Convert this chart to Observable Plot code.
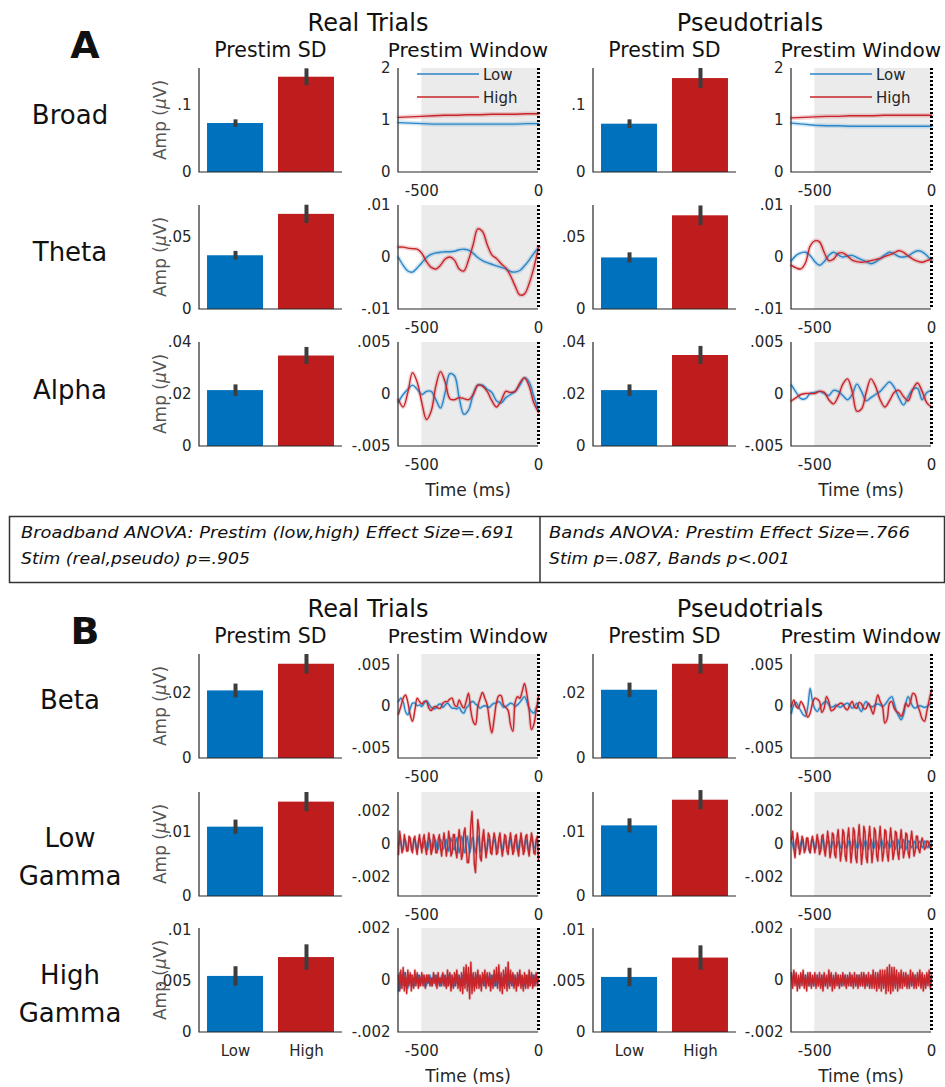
<!DOCTYPE html>
<html><head><meta charset="utf-8">
<script src="https://cdn.jsdelivr.net/npm/d3@7"></script>
<script src="https://cdn.jsdelivr.net/npm/@observablehq/plot@0.6"></script>
<style>
body{margin:0;background:#fff;}
#fig{position:relative;width:945px;height:1087px;overflow:hidden;background:#fff;font-family:"DejaVu Sans",sans-serif;}
</style></head><body><div id="fig"></div>
<script>
// ---------------- DATA ----------------
const bandNames = ["Broad","Theta","Alpha","Beta","Low Gamma","High Gamma"];
const conditions = ["Low","High"];
const trialTypes = ["Real Trials","Pseudotrials"];

// Prestim SD bar means and error half-widths (µV)
const realLowSD   = [0.073, 0.0370, 0.0215, 0.0208, 0.0108, 0.0055];
const realHighSD  = [0.142, 0.0655, 0.0348, 0.0290, 0.0147, 0.00735];
const realLowSE   = [0.0055, 0.0030, 0.0022, 0.0021, 0.0011, 0.00095];
const realHighSE  = [0.0125, 0.0063, 0.0033, 0.0030, 0.0015, 0.00125];
const pseudoLowSD  = [0.072, 0.0355, 0.0215, 0.0210, 0.0110, 0.0054];
const pseudoHighSD = [0.140, 0.0645, 0.0350, 0.0290, 0.0150, 0.0073];
const pseudoLowSE  = [0.0065, 0.0035, 0.0022, 0.0022, 0.0011, 0.0009];
const pseudoHighSE = [0.0150, 0.0068, 0.0035, 0.0030, 0.0015, 0.0012];

const barYMax   = [0.155, 0.0716, 0.04, 0.032, 0.0162, 0.0102];
const barYTicks = [[0,0.1],[0,0.05],[0,0.02,0.04],[0,0.02],[0,0.01],[0,0.005,0.01]];

const lineYMin   = [0, -0.01, -0.005, -0.0063, -0.00315, -0.002];
const lineYMax   = [2,  0.01,  0.005,  0.0063,  0.00315,  0.002];
const lineYTicks = [[0,1,2],[-0.01,0,0.01],[-0.005,0,0.005],[-0.005,0,0.005],[-0.002,0,0.002],[-0.002,0,0.002]];
const timeTicks = [-500, 0];
const timeDomain = [-600, 0];
const prestimWindow = [{start: -500, end: 0}];
const stimOnset = [0];

// sample spacing (ms) of each band's series, all starting at -600 ms
const seriesStep = [50, 20, 20, 10, 5, 5];
// series units: Broad in µV, the others in 1e-3 µV
const seriesUnit = [1, 0.001, 0.001, 0.001, 0.001, 0.001];

// Broad
const broadRealLow    = [0.96,0.95,0.94,0.93,0.93,0.93,0.93,0.93,0.93,0.93,0.93,0.94,0.94];
const broadRealHigh   = [1.06,1.07,1.08,1.09,1.10,1.10,1.11,1.11,1.12,1.12,1.12,1.13,1.13];
const broadPseudoLow  = [0.95,0.93,0.91,0.90,0.90,0.89,0.89,0.89,0.89,0.89,0.89,0.89,0.89];
const broadPseudoHigh = [1.05,1.06,1.07,1.08,1.08,1.09,1.09,1.09,1.10,1.10,1.10,1.10,1.10];
// Theta (x1e-3)
const thetaRealLow    = [0,-1.5,-2.6,-2.8,-2.0,-1.0,0.0,0.6,0.9,1.0,1.1,1.1,1.2,1.5,1.6,1.4,0.8,0.0,-0.6,-1.0,-1.3,-1.6,-1.9,-2.2,-2.7,-2.8,-2.5,-1.6,-0.5,0.8,1.9];
const thetaRealHigh   = [2.0,2.0,1.8,1.7,1.6,0.8,-0.8,-1.9,-2.2,-1.5,-0.3,0.1,-0.5,-2.2,-2.6,-0.5,2.5,5.5,5.0,2.5,0.5,-0.2,-1.2,-2.0,-3.5,-5.5,-7.2,-7.0,-5.0,-2.0,2.0];
const thetaPseudoLow  = [-0.6,0.4,0.9,1.0,0.4,-0.8,-1.5,-0.8,0.4,1.0,0.5,0.1,0.3,0.4,0.0,-0.4,-0.8,-1.2,-0.9,-0.2,0.5,1.0,0.7,0.2,0.1,0.3,0.9,1.3,1.1,0.4,-0.6];
const thetaPseudoHigh = [-1.5,-2.0,-2.2,-1.0,2.2,3.2,3.0,1.0,-0.6,-0.3,0.8,0.9,0.3,-0.5,-0.8,-0.9,-0.8,-0.6,-0.4,-0.2,0.2,0.5,0.9,1.3,1.0,0.3,-0.3,-0.7,-0.9,-0.6,-0.3];
// Alpha (x1e-3)
const alphaRealLow    = [-0.7,0.0,0.5,0.9,0.5,0.0,0.3,0.3,-0.5,-1.3,0.2,2.0,1.8,-0.3,-1.9,-1.5,0.0,0.9,0.9,0.5,0.2,-0.6,-0.8,-0.3,0.0,0.3,0.9,1.6,1.2,-0.2,-1.5];
const alphaRealHigh   = [-0.5,-1.2,0.2,2.1,1.2,-0.8,-2.4,-1.6,0.8,2.2,1.2,-0.4,-0.5,-0.3,-0.4,-0.5,0.0,0.9,0.8,0.3,-0.6,-1.2,-0.6,0.3,0.2,0.3,1.1,1.6,0.8,-0.8,-1.7];
const alphaPseudoLow  = [0.9,0.2,-0.4,-0.4,0.1,0.2,0.3,0.1,-0.1,0.4,0.3,-0.1,-0.5,0.0,1.0,0.3,-0.6,-0.3,0.0,0.3,0.8,1.2,0.7,-0.3,-1.0,-0.2,0.5,0.6,-0.5,0.2,0.4];
const alphaPseudoHigh = [-0.6,-0.3,0.0,0.1,0.1,0.1,0.3,0.2,-0.5,-0.9,-0.2,1.0,1.5,0.3,-1.6,-1.4,0.2,1.5,0.8,-0.5,-1.2,-0.6,0.2,0.4,-0.2,-0.6,0.5,1.1,0.3,-0.8,-1.2];
// Beta (x1e-3)
const betaRealLow = [0.6,1.0,0.6,-0.6,-1.0,-0.3,0.4,0.4,0.1,0.2,
  0.0,0.4,0.7,0.3,-0.1,-0.3,-0.2,0.2,0.3,-0.1,
  0.2,0.4,0.1,-0.2,-0.2,-0.3,-0.1,-0.6,-0.8,-0.2,
  0.1,0.5,0.6,0.3,0.1,-0.2,0.0,0.1,0.0,-0.1,
  0.2,0.4,0.4,0.6,0.3,-0.1,0.0,0.2,0.4,0.3,
  0.0,0.2,0.5,0.9,1.2,0.6,-0.2,-0.6,-0.8,-0.2,0.4];
const betaRealHigh = [-0.9,0.0,1.0,1.4,0.5,-1.0,-1.8,-0.5,1.0,0.6,
  0.3,0.6,0.6,-0.2,-0.5,-0.1,0.0,-0.2,-0.2,0.4,
  0.6,0.6,0.9,1.0,0.2,0.0,0.8,0.2,-0.2,0.6,
  1.6,-0.5,-1.8,-2.2,0.0,1.0,1.7,1.0,0.2,-1.8,
  -3.2,-1.5,0.5,1.3,1.3,0.2,-0.1,-0.5,-2.2,-3.0,
  0.5,1.2,1.0,1.8,2.8,1.5,-0.5,-2.8,-2.2,-0.5,1.2];
const betaPseudoLow = [-0.8,0.2,0.5,-0.1,-0.5,-1.0,-1.2,0.0,2.2,0.6,
  -0.3,-0.6,-0.2,0.2,0.5,0.6,0.2,-0.1,0.0,0.2,
  0.0,-0.1,0.1,0.3,0.4,0.1,-0.2,0.0,0.4,-0.2,
  -0.6,0.2,0.6,0.2,0.0,0.0,0.2,0.3,0.2,0.0,
  0.2,0.6,1.0,1.2,0.4,-0.6,-1.2,-1.6,-1.0,0.4,
  1.2,0.6,0.0,-0.2,0.0,0.1,0.0,-0.1,0.0,0.2,0.4];
const betaPseudoHigh = [0.0,0.8,0.0,-0.2,0.6,0.2,-0.6,-1.3,-0.8,0.4,
  1.0,0.9,0.6,-0.7,-0.2,1.2,0.6,-0.5,-0.4,0.0,
  0.2,0.4,0.3,-0.2,-0.4,0.2,0.6,-0.1,-0.2,0.5,
  0.3,-0.3,-0.2,0.4,-0.2,-0.9,0.3,1.4,0.6,0.0,
  -2.0,-1.5,0.4,0.6,-0.2,-0.6,-0.8,-1.2,-0.6,0.4,
  0.0,0.6,1.6,1.4,0.2,-0.6,-1.5,-1.8,-0.6,0.8,2.0];
// Low Gamma (x1e-3)
const lowGammaRealLow = [0.0,0.3,0.1,-0.3,-0.2,0.3,0.2,-0.2,-0.3,0.2,0.3,-0.1,-0.3,0.1,0.3,0.0,-0.3,-0.1,0.3,0.1,-0.2,
  -0.2,0.2,0.2,-0.2,-0.3,0.1,0.3,0.0,-0.3,-0.1,0.3,0.2,-0.2,-0.3,0.1,0.3,0.1,-0.3,-0.2,0.2,
  0.3,-0.1,-0.4,0.0,0.4,0.2,-0.3,-0.3,0.2,0.4,-0.1,-0.5,-0.1,0.5,0.3,-0.4,-0.5,0.2,0.5,0.0,
  -0.5,-0.2,0.4,0.4,-0.2,-0.5,0.0,0.5,0.2,-0.4,-0.4,0.2,0.4,0.0,-0.4,-0.2,0.3,0.3,-0.2,-0.3,
  0.1,0.3,0.1,-0.3,-0.2,0.2,0.3,-0.1,-0.3,0.0,0.3,0.1,-0.2,-0.2,0.2,0.3,-0.1,-0.3,0.0,0.3,
  0.1,-0.3,-0.2,0.2,0.3,-0.1,-0.3,0.0,0.3,0.2,-0.2,-0.3,0.1,0.3,0.1,-0.2,-0.2,0.2,0.2,-0.1];
const lowGammaRealHigh = [-0.6,0.8,0.3,-0.5,-0.3,0.6,0.2,-0.4,-0.4,0.5,0.4,-0.3,-0.5,0.3,0.5,-0.2,-0.6,0.2,0.6,0.0,-0.5,
  0.3,0.6,-0.2,-0.6,0.1,0.7,0.1,-0.6,-0.3,0.6,0.4,-0.5,-0.5,0.3,0.6,-0.2,-0.7,0.1,0.7,0.1,
  -0.7,-0.2,0.8,0.3,-0.7,-0.5,0.6,0.6,-0.4,-0.8,0.2,0.9,0.2,-0.9,-0.6,0.7,1.0,-0.2,-1.1,-1.1,
  -0.3,1.2,2.0,0.5,-1.2,-1.7,-0.2,1.5,1.0,-0.8,-1.0,0.4,0.9,0.0,-0.8,-0.3,0.7,0.5,-0.5,-0.6,
  0.2,0.7,0.3,-0.6,-0.5,0.4,0.7,-0.1,-0.7,-0.2,0.6,0.5,-0.4,-0.6,0.2,0.7,0.1,-0.6,-0.4,0.5,
  0.6,-0.3,-0.7,0.1,0.7,0.2,-0.6,-0.4,0.5,0.6,-0.3,-0.7,0.1,0.7,0.3,-0.5,-0.6,0.3,0.5,-0.9];
const lowGammaPseudoLow = [0.2,0.0,-0.3,-0.1,0.3,0.2,-0.2,-0.3,0.1,0.3,0.0,-0.3,-0.2,0.3,0.2,-0.3,-0.5,0.0,0.3,0.1,-0.3,
  -0.2,0.2,0.2,-0.2,-0.3,0.1,0.3,0.0,-0.3,-0.1,0.2,0.2,-0.1,-0.2,0.1,0.2,0.0,-0.2,-0.1,0.2,
  0.1,-0.2,-0.2,0.1,0.2,0.0,-0.2,-0.1,0.2,0.2,-0.1,-0.3,0.0,0.3,0.1,-0.2,-0.2,0.1,0.3,0.0,
  -0.3,-0.1,0.2,0.2,-0.1,-0.3,0.0,0.3,0.1,-0.2,-0.2,0.2,0.2,-0.1,-0.3,0.0,0.3,0.1,-0.2,-0.2,
  0.1,0.2,0.0,-0.2,-0.1,0.2,0.2,-0.1,-0.3,0.0,0.3,0.1,-0.2,-0.2,0.1,0.3,0.0,-0.3,-0.1,0.2,
  0.2,-0.1,-0.2,0.0,0.2,0.1,-0.2,-0.2,0.1,0.2,0.0,-0.2,-0.1,0.2,0.2,-0.1,-0.2,0.0,0.2,0.1];
const lowGammaPseudoHigh = [0.3,0.8,-0.2,-0.8,0.0,0.7,0.2,-0.6,-0.3,0.5,0.3,-0.5,-0.3,0.4,0.4,-0.3,-0.5,0.2,0.5,0.0,-0.5,
  0.0,0.6,0.2,-0.6,-0.4,0.5,0.6,-0.3,-0.7,0.1,0.8,0.2,-0.8,-0.4,0.7,0.6,-0.6,-0.8,0.4,0.9,
  0.0,-1.0,-0.4,0.9,0.7,-0.7,-1.0,0.4,1.0,0.0,-1.1,-0.4,1.0,0.8,-0.8,-1.1,0.4,1.2,0.1,-1.2,
  -0.5,1.1,0.8,-0.8,-1.1,0.4,1.1,0.0,-1.1,-0.4,1.0,0.8,-0.7,-1.0,0.3,1.1,0.1,-1.0,-0.5,0.9,
  0.8,-0.6,-1.0,0.2,1.0,0.2,-0.9,-0.5,0.8,0.7,-0.5,-0.9,0.2,0.9,0.1,-0.8,-0.4,0.7,0.6,-0.5,
  -0.8,0.2,0.8,0.1,-0.7,-0.4,0.5,0.5,-0.3,-0.5,0.1,0.4,0.1,-0.3,-0.2,0.2,0.2,-0.1,-0.2,-0.1];
// High Gamma (x1e-3)
const highGammaRealLow = [-0.4,0.3,-0.3,0.2,-0.2,0.3,-0.2,0.1,-0.3,0.2,-0.1,0.2,-0.2,0.1,-0.2,0.2,-0.1,0.2,-0.2,0.1,-0.1,
  0.2,-0.2,0.1,-0.2,0.2,-0.1,0.2,-0.2,0.1,-0.1,0.2,-0.2,0.2,-0.1,0.1,-0.2,0.2,-0.1,0.2,-0.2,
  0.1,-0.2,0.2,-0.1,0.2,-0.2,0.1,-0.2,0.2,-0.1,0.2,-0.2,0.1,-0.2,0.2,-0.2,0.1,-0.1,0.2,-0.2,
  0.2,-0.1,0.2,-0.2,0.1,-0.2,0.2,-0.1,0.2,-0.2,0.1,-0.1,0.2,-0.2,0.2,-0.1,0.1,-0.2,0.2,-0.1,
  0.2,-0.2,0.1,-0.2,0.2,-0.1,0.2,-0.2,0.1,-0.2,0.2,-0.1,0.2,-0.2,0.1,-0.1,0.2,-0.2,0.2,-0.1,
  0.1,-0.2,0.2,-0.1,0.2,-0.2,0.1,-0.2,0.2,-0.1,0.2,-0.2,0.1,-0.1,0.2,-0.2,0.2,-0.1,0.1,0.0];
const highGammaRealHigh = [0.2,-0.4,0.4,-0.3,0.5,-0.4,0.3,-0.5,0.4,-0.2,0.3,-0.4,0.2,-0.3,0.4,-0.2,0.3,-0.3,0.2,-0.2,0.3,
  -0.2,0.2,-0.3,0.2,-0.1,0.2,-0.2,0.1,-0.2,0.3,-0.1,0.2,-0.3,0.3,-0.2,0.1,-0.2,0.3,-0.2,0.2,
  -0.3,0.4,-0.2,0.3,-0.4,0.2,-0.3,0.3,-0.2,0.4,-0.3,0.2,-0.4,0.3,-0.5,0.5,-0.3,0.6,-0.4,0.5,
  -0.7,0.7,-0.5,0.3,-0.4,0.3,-0.3,0.4,-0.3,0.2,-0.4,0.3,-0.2,0.4,-0.3,0.3,-0.2,0.3,-0.4,0.2,
  -0.3,0.4,-0.2,0.5,-0.3,0.6,-0.4,0.3,-0.5,0.4,-0.3,0.5,-0.4,0.7,-0.3,0.4,-0.2,0.3,-0.3,0.2,
  -0.4,0.3,-0.2,0.4,-0.3,0.2,-0.4,0.3,-0.3,0.2,-0.3,0.4,-0.2,0.3,-0.3,0.2,-0.2,0.3,-0.2,0.1];
const highGammaPseudoLow = [0.2,-0.2,0.3,-0.1,0.2,-0.2,0.1,-0.2,0.2,-0.1,0.2,-0.2,0.2,-0.1,0.1,-0.2,0.3,-0.2,0.1,-0.2,0.2,
  -0.1,0.2,-0.2,0.1,-0.2,0.2,-0.1,0.2,-0.2,0.1,-0.1,0.2,-0.2,0.2,-0.1,0.1,-0.2,0.2,-0.1,0.2,
  -0.2,0.1,-0.2,0.2,-0.1,0.2,-0.2,0.1,-0.1,0.2,-0.2,0.2,-0.1,0.1,-0.2,0.2,-0.1,0.2,-0.2,0.1,
  -0.2,0.2,-0.1,0.2,-0.2,0.1,-0.2,0.2,-0.1,0.2,-0.2,0.1,-0.1,0.2,-0.2,0.2,-0.1,0.1,-0.2,0.2,
  -0.1,0.2,-0.2,0.1,-0.2,0.2,-0.1,0.2,-0.2,0.1,-0.1,0.2,-0.2,0.2,-0.1,0.1,-0.2,0.2,-0.1,0.2,
  -0.2,0.1,-0.2,0.2,-0.1,0.2,-0.2,0.1,-0.1,0.2,-0.2,0.2,-0.1,0.1,-0.2,0.2,-0.1,0.2,-0.2,0.1];
const highGammaPseudoHigh = [0.3,-0.3,0.4,-0.2,0.3,-0.4,0.2,-0.3,0.3,-0.2,0.4,-0.3,0.2,-0.4,0.3,-0.2,0.3,-0.3,0.2,-0.2,0.3,
  -0.3,0.2,-0.2,0.3,-0.3,0.2,-0.4,0.3,-0.2,0.2,-0.3,0.4,-0.2,0.3,-0.4,0.2,-0.3,0.3,-0.2,0.2,
  -0.3,0.2,-0.2,0.3,-0.2,0.2,-0.3,0.2,-0.2,0.3,-0.2,0.2,-0.3,0.3,-0.2,0.2,-0.3,0.2,-0.2,0.3,
  -0.2,0.3,-0.3,0.2,-0.2,0.3,-0.3,0.2,-0.3,0.4,-0.3,0.3,-0.4,0.3,-0.3,0.4,-0.4,0.4,-0.3,0.4,
  -0.5,0.5,-0.4,0.6,-0.5,0.5,-0.4,0.5,-0.3,0.4,-0.4,0.3,-0.3,0.4,-0.3,0.3,-0.2,0.3,-0.3,0.2,
  -0.3,0.4,-0.2,0.3,-0.3,0.2,-0.3,0.3,-0.2,0.4,-0.3,0.3,-0.4,0.2,-0.3,0.3,-0.2,0.4,-0.3,0.2];

const realLowSeries    = [broadRealLow, thetaRealLow, alphaRealLow, betaRealLow, lowGammaRealLow, highGammaRealLow];
const realHighSeries   = [broadRealHigh, thetaRealHigh, alphaRealHigh, betaRealHigh, lowGammaRealHigh, highGammaRealHigh];
const pseudoLowSeries  = [broadPseudoLow, thetaPseudoLow, alphaPseudoLow, betaPseudoLow, lowGammaPseudoLow, highGammaPseudoLow];
const pseudoHighSeries = [broadPseudoHigh, thetaPseudoHigh, alphaPseudoHigh, betaPseudoHigh, lowGammaPseudoHigh, highGammaPseudoHigh];

const statsLeft  = ["Broadband ANOVA: Prestim (low,high) Effect Size=.691", "Stim (real,pseudo) p=.905"];
const statsRight = ["Bands ANOVA: Prestim Effect Size=.766", "Stim p=.087, Bands p<.001"];

// ---------------- STYLE / LAYOUT ----------------
const BAR_BLUE = "#0072BD", BAR_RED = "#BF1D1D";
const LINE_BLUE = "#2A85C8", LINE_RED = "#C7252A";
const FONT = '"DejaVu Sans", sans-serif';
const colBar = [199, 593], colLine = [398, 791];
const rowTop = [68, 205, 342, 654, 792, 928];
const BAR_W = 143, LINE_W = 140, PANEL_H = 104;
const curves = ["linear","catmull-rom","catmull-rom","catmull-rom","linear","linear"];
const haloWidth = [4.5, 4.5, 4, 3.5, 3, 3];

const fig = document.getElementById("fig");
function place(node, left, top) {
  node.style.position = "absolute";
  node.style.left = left + "px";
  node.style.top = top + "px";
  fig.appendChild(node);
}
const fmt = d => d === 0 ? "0" : String(+d.toPrecision(6)).replace("0.", ".");
const plotStyle = {fontFamily: FONT, fontSize: "15px", color: "#262626", background: "transparent", overflow: "visible"};

const axisLines = (index, scales, values, dims) => {
  const {width, height, marginLeft, marginRight, marginTop, marginBottom} = dims;
  const p = document.createElementNS("http://www.w3.org/2000/svg", "path");
  p.setAttribute("d", `M${marginLeft},${marginTop}V${height - marginBottom}H${width - marginRight}`);
  p.setAttribute("fill", "none");
  p.setAttribute("stroke", "#262626");
  p.setAttribute("stroke-width", "1.2");
  return p;
};

function drawBar(b, low, high, lowSE, highSE, left, top, showX) {
  const data = [
    {cond: "Low", v: low[b], se: lowSE[b]},
    {cond: "High", v: high[b], se: highSE[b]}
  ];
  const ML = 50, MR = 6, MT = 8, MB = 40;
  const svg = Plot.plot({
    width: BAR_W + ML + MR, height: PANEL_H + MT + MB,
    marginLeft: ML, marginRight: MR, marginTop: MT, marginBottom: MB,
    style: plotStyle,
    x: {domain: conditions, paddingInner: 0.211, paddingOuter: 0.113, round: false,
        axis: showX ? "bottom" : null, tickSize: 0, tickPadding: 13, label: null},
    y: {domain: [0, barYMax[b]], ticks: barYTicks[b], tickFormat: fmt, tickSize: 0, tickPadding: 8, label: null},
    color: {domain: conditions, range: [BAR_BLUE, BAR_RED]},
    marks: [
      Plot.barY(data, {x: "cond", y: "v", fill: "cond"}),
      Plot.ruleX(data, {x: "cond", y1: d => d.v - d.se, y2: d => d.v + d.se, stroke: "#3d3d3d", strokeWidth: 4}),
      axisLines
    ]
  });
  place(svg, left - ML, top - MT);
}

function drawLine(b, lowArr, highArr, left, top) {
  const step = seriesStep[b], unit = seriesUnit[b];
  const data = [
    ...lowArr.map((v, k) => ({t: timeDomain[0] + k * step, v: v * unit, cond: "Low"})),
    ...highArr.map((v, k) => ({t: timeDomain[0] + k * step, v: v * unit, cond: "High"}))
  ];
  const ML = 60, MR = 8, MT = 8, MB = 40;
  const svg = Plot.plot({
    width: LINE_W + ML + MR, height: PANEL_H + MT + MB,
    marginLeft: ML, marginRight: MR, marginTop: MT, marginBottom: MB,
    style: plotStyle,
    x: {domain: timeDomain, ticks: timeTicks, tickFormat: d => String(d), tickSize: 0, tickPadding: 13, label: null},
    y: {domain: [lineYMin[b], lineYMax[b]], ticks: lineYTicks[b], tickFormat: fmt, tickSize: 0, tickPadding: 8, label: null},
    color: {domain: conditions, range: [LINE_BLUE, LINE_RED]},
    marks: [
      Plot.rect(prestimWindow, {x1: "start", x2: "end", fill: "#ebebeb"}),
      Plot.line(data, {x: "t", y: "v", z: "cond", stroke: "cond", strokeWidth: haloWidth[b], strokeOpacity: 0.2, curve: curves[b]}),
      Plot.line(data, {x: "t", y: "v", z: "cond", stroke: "cond", strokeWidth: 1.4, curve: curves[b]}),
      Plot.ruleX(stimOnset, {x: d => d, stroke: "#000", strokeWidth: 3, strokeDasharray: "2,2"}),
      axisLines
    ]
  });
  place(svg, left - ML, top - MT);
}

const sets = [
  {low: realLowSD, high: realHighSD, lowSE: realLowSE, highSE: realHighSE, lowS: realLowSeries, highS: realHighSeries},
  {low: pseudoLowSD, high: pseudoHighSD, lowSE: pseudoLowSE, highSE: pseudoHighSE, lowS: pseudoLowSeries, highS: pseudoHighSeries}
];
bandNames.forEach((name, b) => {
  sets.forEach((s, j) => {
    drawBar(b, s.low, s.high, s.lowSE, s.highSE, colBar[j], rowTop[b], b === 5);
    drawLine(b, s.lowS[b], s.highS[b], colLine[j], rowTop[b]);
  });
});

// ---------------- TEXT OVERLAY ----------------
const ov = d3.create("svg").attr("width", 945).attr("height", 1087)
  .style("position", "absolute").style("left", "0px").style("top", "0px")
  .style("pointer-events", "none").style("font-family", FONT).attr("fill", "#111");
function txt(x, y, s, size, opts = {}) {
  const t = ov.append("text").attr("x", x).attr("y", y).attr("font-size", size)
    .attr("text-anchor", opts.anchor || "middle").text(s);
  if (opts.weight) t.attr("font-weight", opts.weight);
  if (opts.fill) t.attr("fill", opts.fill);
  if (opts.italic) t.attr("font-style", "italic");
  if (opts.len) t.attr("textLength", opts.len).attr("lengthAdjust", "spacingAndGlyphs");
  return t;
}
[[0, "A"], [586, "B"]].forEach(([dy, letter]) => {
  txt(85, 58 + dy, letter, 38, {weight: "bold"});
  txt(368, 31 + dy, trialTypes[0], 24);
  txt(750, 31 + dy, trialTypes[1], 24);
  txt(colBar[0] + BAR_W / 2, 57 + dy, "Prestim SD", 20.5);
  txt(colLine[0] + LINE_W / 2, 57 + dy, "Prestim Window", 20);
  txt(colBar[1] + BAR_W / 2, 57 + dy, "Prestim SD", 20.5);
  txt(colLine[1] + LINE_W / 2, 57 + dy, "Prestim Window", 20);
});
// row labels (baselines)
const rowLabelLines = [["Broad"], ["Theta"], ["Alpha"], ["Beta"], ["Low", "Gamma"], ["High", "Gamma"]];
const rowLabelBase = [124, 261, 399, 709, 847, 984];
rowLabelLines.forEach((lines, b) => {
  lines.forEach((s, k) => txt(70, rowLabelBase[b] + k * 38, s, 26));
});
// y axis labels
rowTop.forEach(top => {
  const cx = 160, cy = top + PANEL_H / 2;
  const t = ov.append("text").attr("transform", `translate(${cx + 6},${cy}) rotate(-90)`)
    .attr("text-anchor", "middle").attr("font-size", 17).attr("fill", "#555");
  t.append("tspan").text("Amp (");
  t.append("tspan").attr("font-style", "italic").text("μ");
  t.append("tspan").text("V)");
});
// time labels
[2, 5].forEach(b => colLine.forEach(x => txt(x + LINE_W / 2, rowTop[b] + PANEL_H + 50, "Time (ms)", 17, {fill: "#262626"})));
// legends in Broad window panels
colLine.forEach(x => {
  [[74, LINE_BLUE, "Low"], [97, LINE_RED, "High"]].forEach(([y, c, s]) => {
    ov.append("line").attr("x1", x + 19).attr("x2", x + 81).attr("y1", y).attr("y2", y)
      .attr("stroke", c).attr("stroke-width", 1.6);
    txt(x + 85, y + 5.5, s, 15, {anchor: "start", fill: "#262626"});
  });
});
// stats box
ov.append("rect").attr("x", 9.5).attr("y", 516.5).attr("width", 935).attr("height", 66)
  .attr("fill", "none").attr("stroke", "#333").attr("stroke-width", 1.5);
ov.append("line").attr("x1", 540).attr("x2", 540).attr("y1", 516.5).attr("y2", 582.5)
  .attr("stroke", "#333").attr("stroke-width", 1.5);
txt(21, 538, statsLeft[0], 15, {anchor: "start", italic: true, len: 494, fill: "#111"});
txt(21, 564, statsLeft[1], 15, {anchor: "start", italic: true, len: 229, fill: "#111"});
txt(549, 538, statsRight[0], 15, {anchor: "start", italic: true, len: 361, fill: "#111"});
txt(549, 564, statsRight[1], 15, {anchor: "start", italic: true, len: 241, fill: "#111"});
fig.appendChild(ov.node());
</script></body></html>
